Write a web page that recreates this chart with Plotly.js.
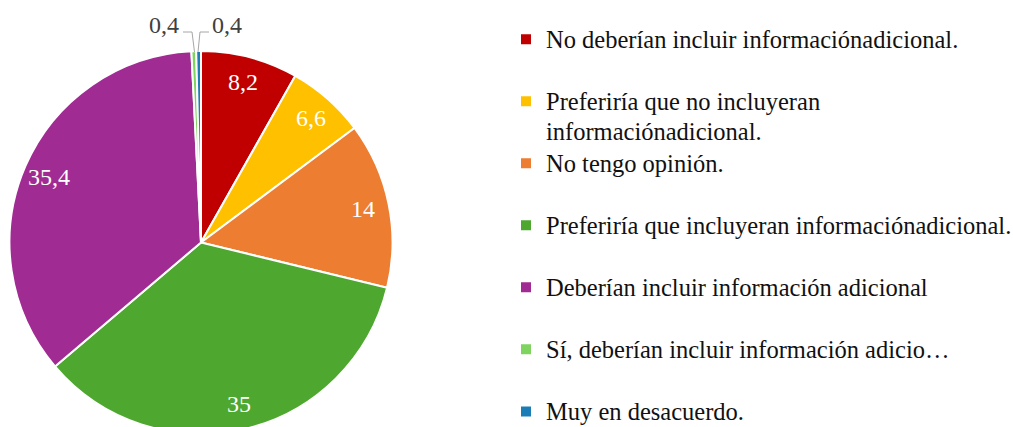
<!DOCTYPE html>
<html>
<head>
<meta charset="utf-8">
<script src="https://cdn.plot.ly/plotly-3.0.1.min.js"></script>
<style>
html,body{margin:0;padding:0;overflow:hidden;background:#fff;}
#chart{width:1040px;height:460px;}
</style>
</head>
<body>
<div id="chart"></div>
<script>
var categories = [
  "No deberían incluir informaciónadicional.",
  "Preferiría que no incluyeran<br>informaciónadicional.",
  "No tengo opinión.",
  "Preferiría que incluyeran informaciónadicional.",
  "Deberían incluir información adicional",
  "Sí, deberían incluir información adicio…",
  "Muy en desacuerdo."
];
var values = [8.2, 6.6, 14, 35, 35.4, 0.4, 0.4];
var valueLabels = ["8,2", "6,6", "14", "35", "35,4", "0,4", "0,4"];
var colors = ["#C00000", "#FFC000", "#ED7D31", "#4EA72E", "#A02B93", "#7FD35F", "#1A7DB5"];

var W = 1040, H = 460;
var cx = 201, cy = 242.5, R = 190.5;
var domainHalf = 191.5;
function px(x){ return x / W; }
function py(y){ return 1 - y / H; }

// legend labels: larger glyphs than the line pitch; single-line entries padded with a blank line
var legendLabels = categories.map(function(c, i){
  var parts = c.split('<br>').map(function(p){ return '<span style="font-size:24.5px">' + p + '</span>'; });
  var s = parts.join('<br>');
  if (parts.length === 1 && i !== categories.length - 1) s += '<br>\u00a0';
  return s;
});

var trace = {
  type: 'pie',
  labels: legendLabels,
  values: values,
  marker: {colors: colors, line: {color: '#ffffff', width: 2}},
  sort: false,
  direction: 'clockwise',
  rotation: 0,
  textinfo: 'none',
  hoverinfo: 'none',
  domain: {x: [px(cx - domainHalf), px(cx + domainHalf)], y: [py(cy + domainHalf), py(cy - domainHalf)]}
};

var total = values.reduce(function(a, b){ return a + b; }, 0);
var annotations = [];
var cum = 0;
var labelFactor = 0.87;
values.forEach(function(v, i){
  var mid = (cum + v / 2) / total;
  cum += v;
  if (v < 1) return;
  var th = mid * 2 * Math.PI;
  var x = cx + labelFactor * R * Math.sin(th);
  var y = cy - labelFactor * R * Math.cos(th);
  annotations.push({
    xref: 'paper', yref: 'paper', x: px(x), y: py(y),
    text: valueLabels[i], showarrow: false,
    xanchor: 'center', yanchor: 'middle',
    font: {family: 'Liberation Serif, Times New Roman, serif', size: 24, color: '#ffffff'}
  });
});
// tiny slices labelled outside
annotations.push({
  xref: 'paper', yref: 'paper', x: px(164), y: py(25),
  text: valueLabels[5], showarrow: false, xanchor: 'center', yanchor: 'middle',
  font: {family: 'Liberation Serif, Times New Roman, serif', size: 24, color: '#404040'}
});
annotations.push({
  xref: 'paper', yref: 'paper', x: px(227), y: py(25),
  text: valueLabels[6], showarrow: false, xanchor: 'center', yanchor: 'middle',
  font: {family: 'Liberation Serif, Times New Roman, serif', size: 24, color: '#404040'}
});

var shapes = [
  {type: 'path', xref: 'paper', yref: 'paper',
   path: 'M' + px(183) + ',' + py(32) + ' L' + px(192) + ',' + py(32) + ' L' + px(194.5) + ',' + py(52),
   line: {color: '#A6A6A6', width: 1}},
  {type: 'path', xref: 'paper', yref: 'paper',
   path: 'M' + px(198) + ',' + py(52) + ' L' + px(200) + ',' + py(32) + ' L' + px(209) + ',' + py(32),
   line: {color: '#A6A6A6', width: 1}}
];

var layout = {
  width: W, height: H,
  margin: {l: 0, r: 0, t: 0, b: 0},
  paper_bgcolor: '#ffffff',
  showlegend: true,
  legend: {
    x: px(506), xanchor: 'left',
    y: py(18), yanchor: 'top',
    valign: 'top',
    font: {family: 'Liberation Serif, Times New Roman, serif', size: 22.7, color: '#111111'},
    bgcolor: 'rgba(0,0,0,0)', borderwidth: 0
  },
  annotations: annotations,
  shapes: shapes
};

Plotly.newPlot('chart', [trace], layout, {displayModeBar: false, staticPlot: true});
</script>
</body>
</html>
